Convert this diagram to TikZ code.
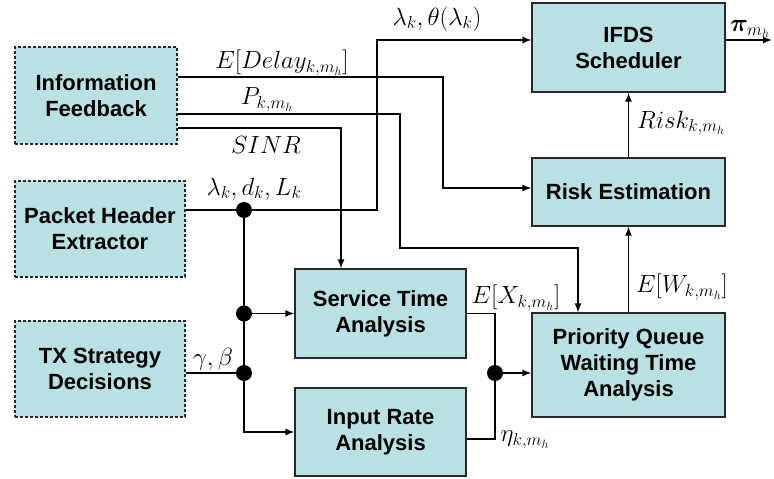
\documentclass[tikz,border=0pt]{standalone}
\usepackage{fontspec}
\setmainfont{Liberation Sans}
\usepackage{amsmath,bm}
\usetikzlibrary{arrows.meta,calc}
\definecolor{boxfill}{RGB}{185,224,226}
\definecolor{boxline}{RGB}{40,40,40}
\tikzset{
  blk/.style={draw=boxline,line width=1.2pt,fill=boxfill,align=center,
    font=\fontsize{22}{26}\selectfont\bfseries,inner sep=0pt},
  srcblk/.style={blk,dash pattern=on 3pt off 2pt},
  wire/.style={line width=1.4pt},
  arr/.style={wire,-{Latex[length=9pt,width=7pt]}},
  junction/.style={circle,fill=black,minimum size=16pt,inner sep=0pt},
  lbl/.style={font=\fontsize{23}{25}\selectfont,inner sep=0pt}
}
\begin{document}
\begin{tikzpicture}[x=1pt,y=-1pt]
\useasboundingbox (0,0) rectangle (774,479);

% source blocks (dashed)
\node[srcblk,minimum width=162pt,minimum height=97pt] (fb) at (96,95.5) {Information\\Feedback};
\node[srcblk,minimum width=170pt,minimum height=96pt] (ph) at (100,229) {Packet Header\\Extractor};
\node[srcblk,minimum width=170pt,minimum height=96pt] (tx) at (100,369) {TX Strategy\\Decisions};

% analysis blocks
\node[blk,minimum width=171pt,minimum height=89pt] (st) at (380.5,313.5) {Service Time\\Analysis};
\node[blk,minimum width=171pt,minimum height=88pt] (ir) at (380.5,432) {Input Rate\\Analysis};
\node[blk,minimum width=193pt,minimum height=104pt] (pq) at (628.5,365) {Priority Queue\\Waiting Time\\Analysis};
\node[blk,minimum width=193pt,minimum height=68pt] (risk) at (628.5,192) {Risk Estimation};
\node[blk,minimum width=193pt,minimum height=89pt] (ifds) at (628.5,47.5) {IFDS\\Scheduler};

% junctions
\node[junction] (j1) at (244,210) {};
\node[junction] (j2) at (244,313.5) {};
\node[junction] (j3) at (244,373) {};
\node[junction] (j4) at (495,373) {};
\coordinate (out) at (772,40);

% feedback lines
\draw[arr] ([yshift=18.5pt]fb.east) -- (443,77) -- (443,188) -- ([yshift=4pt]risk.west);
\draw[arr] ([yshift=-18.5pt]fb.east) -- (400,114) -- (400,248) -- (578,248) -- ([xshift=-50.5pt]pq.north);
\draw[arr] ([yshift=-32.5pt]fb.east) -- (341,128) -- ([xshift=-39.5pt]st.north);

% packet header outputs
\draw[wire] ([yshift=19pt]ph.east) -- (j1.center);
\draw[arr] (j1.center) -- (377,210) -- (377,40) -- ([yshift=7.5pt]ifds.west);
\draw[wire] (j1.center) -- (j2.center) -- (j3.center);
\draw[arr] (j3.center) -- (244,432) -- (ir.west);
\draw[arr] (j2.center) -- (st.west);
\draw[wire] ([yshift=-4pt]tx.east) -- (j3.center);

% analysis outputs
\draw[wire] (st.east) -- (495,313.5) -- (j4.center);
\draw[wire] ([yshift=-7pt]ir.east) -- (495,439) -- (j4.center);
\draw[arr] (j4.center) -- ([yshift=-8pt]pq.west);
\draw[arr] (pq.north) -- (risk.south);
\draw[arr] (risk.north) -- (ifds.south);
\draw[arr] ([yshift=7.5pt]ifds.east) -- (out);

% labels
\node[lbl] (l1) at (437,19) {$\lambda_k,\theta(\lambda_k)$};
\node[lbl] (l2) at (282,63) {$E[Delay_{k,m_h}]$};
\node[lbl] (l3) at (267,100) {$P_{k,m_h}$};
\node[lbl] (l4) at (266,145) {$SINR$};
\node[lbl] (l5) at (254,189) {$\lambda_k,d_k,L_k$};
\node[lbl] (l6) at (213,359) {$\gamma,\beta$};
\node[lbl] (l7) at (516,298) {$E[X_{k,m_h}]$};
\node[lbl] (l8) at (525,440) {$\eta_{k,m_h}$};
\node[lbl] (l9) at (682,287) {$E[W_{k,m_h}]$};
\node[lbl] (l10) at (681,123) {$Risk_{k,m_h}$};
\node[lbl] (l11) at (750,29) {$\bm{\pi}_{m_h}$};
\end{tikzpicture}
\end{document}
